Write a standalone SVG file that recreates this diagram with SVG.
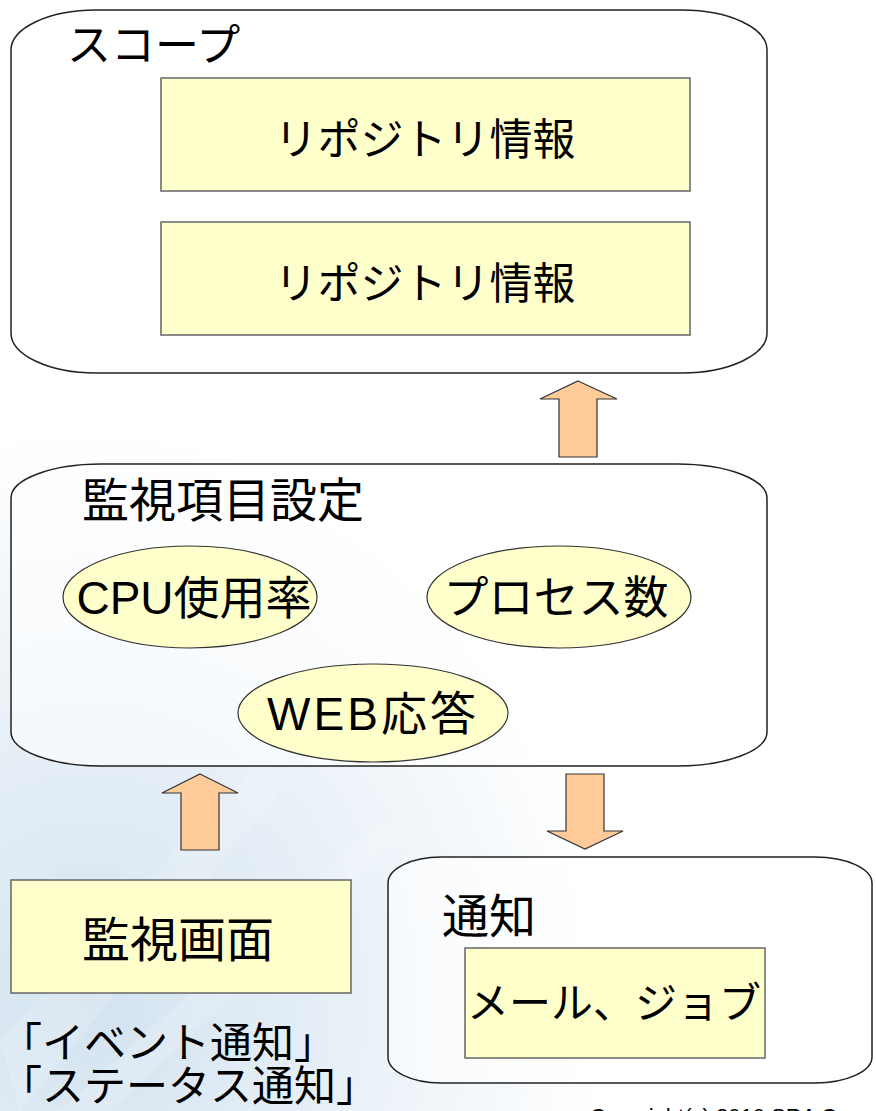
<svg xmlns="http://www.w3.org/2000/svg" width="876" height="1111" viewBox="0 0 876 1111">
<defs>
<style>
.t{font-family:"Liberation Sans","Noto Sans CJK JP",sans-serif;fill:#000;}
.c{text-anchor:middle;}
.box{fill:#ffffff;fill-opacity:0.6;stroke:#222;stroke-width:1.5;}
.rect{fill:#ffffcc;stroke:#666;stroke-width:1.5;}
.ell{fill:#ffffcc;stroke:#333;stroke-width:1.2;}
.arrow{fill:#ffcc99;stroke:#333;stroke-width:1.2;}
</style>
<radialGradient id="bg" gradientUnits="userSpaceOnUse" cx="90" cy="1000" r="520" gradientTransform="translate(90,1000) scale(1,1.1) translate(-90,-1000)">
<stop offset="0" stop-color="#d3e3f0"/>
<stop offset="0.5" stop-color="#e8f0f7"/>
<stop offset="1" stop-color="#ffffff"/>
</radialGradient>
<linearGradient id="streak" x1="0" y1="0" x2="1" y2="1">
<stop offset="0" stop-color="#ffffff" stop-opacity="0"/>
<stop offset="0.5" stop-color="#ffffff" stop-opacity="0.5"/>
<stop offset="1" stop-color="#ffffff" stop-opacity="0"/>
</linearGradient>
</defs>
<rect x="0" y="0" width="876" height="1111" fill="#ffffff"/>
<rect x="0" y="0" width="876" height="1111" fill="url(#bg)"/>
<g opacity="0.35">
<path d="M0,1040 L260,760 L290,780 L20,1111 Z" fill="url(#streak)"/>
<path d="M60,1111 L380,820 L400,840 L110,1111 Z" fill="url(#streak)"/>
</g>

<g id="scope">
<path class="box" d="M96,10 H682 A85,40 0 0 1 767,50 V333 A85,40 0 0 1 682,373 H96 A85,40 0 0 1 11,333 V50 A85,40 0 0 1 96,10 Z" style="fill-opacity:1"/>
<text class="t" x="67" y="61" font-size="44">スコープ</text>
</g>
<g id="repo1">
<rect class="rect" x="161" y="78" width="529" height="113"/>
<text class="t c" x="425" y="155" font-size="43">リポジトリ情報</text>
</g>
<g id="repo2">
<rect class="rect" x="161" y="222" width="529" height="113"/>
<text class="t c" x="425" y="299" font-size="43">リポジトリ情報</text>
</g>

<g id="monitor">
<path class="box" d="M101,464 H677 A90,34 0 0 1 767,498 V732 A90,34 0 0 1 677,766 H101 A90,34 0 0 1 11,732 V498 A90,34 0 0 1 101,464 Z"/>
<text class="t" x="82" y="517" font-size="47">監視項目設定</text>
</g>
<g id="cpu">
<ellipse class="ell" cx="190" cy="597" rx="127" ry="51"/>
<text class="t c" x="194" y="614" font-size="46">CPU使用率</text>
</g>
<g id="process">
<ellipse class="ell" cx="559" cy="597" rx="132" ry="51"/>
<text class="t c" x="556" y="614" font-size="45">プロセス数</text>
</g>
<g id="web">
<ellipse class="ell" cx="373" cy="713" rx="135" ry="49"/>
<text class="t c" x="373" y="730" font-size="46" letter-spacing="3">WEB応答</text>
</g>

<g id="screen">
<rect class="rect" x="11" y="880" width="340" height="113"/>
<text class="t c" x="178" y="957" font-size="48">監視画面</text>
</g>

<g id="notify">
<path class="box" d="M441,857 H815 A57,26 0 0 1 872,883 V1057 A57,26 0 0 1 815,1083 H441 A53,26 0 0 1 388,1057 V883 A53,26 0 0 1 441,857 Z"/>
<text class="t" x="442" y="933" font-size="47">通知</text>
</g>
<g id="mailjob">
<rect class="rect" x="465" y="948" width="300" height="110"/>
<text class="t c" x="614" y="1018" font-size="42">メール、ジョブ</text>
</g>

<g id="labels">
<text class="t" x="0" y="1058" font-size="42">「イベント通知」</text>
<text class="t" x="0" y="1101" font-size="42">「ステータス通知」</text>
<text class="t" x="590" y="1124" font-size="22">Copyright(c) 2010 SRA O</text>
</g>

<g id="connectors">
<path class="arrow" d="M578,381 L617,399 L597,399 L597,457 L559,457 L559,399 L540,399 Z"/>
<path class="arrow" d="M200,774 L238,793 L219,793 L219,850 L181,850 L181,793 L162,793 Z"/>
<path class="arrow" d="M566,774 L604,774 L604,831 L623,831 L585,849 L547,831 L566,831 Z"/>
</g>
</svg>
